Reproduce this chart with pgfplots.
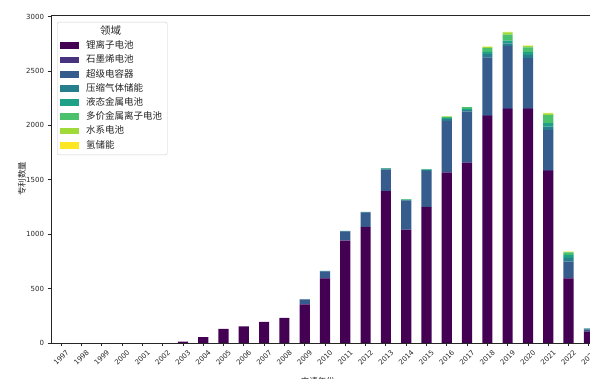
\documentclass[border=0pt]{standalone}
\usepackage{fontspec}
\setmainfont{DejaVu Sans}
\newfontfamily\cjk{Noto Sans CJK SC}
\usepackage{pgfplots}
\pgfplotsset{compat=1.18}
\usepackage{pgfplotstable}

% viridis, 8 steps
\definecolor{v1}{HTML}{440154}
\definecolor{v2}{HTML}{46327E}
\definecolor{v3}{HTML}{365C8D}
\definecolor{v4}{HTML}{277F8E}
\definecolor{v5}{HTML}{1FA187}
\definecolor{v6}{HTML}{4AC16D}
\definecolor{v7}{HTML}{A0DA39}
\definecolor{v8}{HTML}{FDE725}

% patent counts per application year and field
\pgfplotstableread{
year li   gr sc  ca lm mv aq h
1997 0    0  0   0  0  0  0  0
1998 0    0  0   0  0  0  0  0
1999 0    0  0   0  0  0  0  0
2000 0    0  0   0  0  0  0  0
2001 0    0  0   0  0  0  0  0
2002 0    0  0   0  0  0  0  0
2003 12   0  0   0  0  0  0  0
2004 55   0  0   0  0  0  0  0
2005 129  0  0   0  0  0  0  0
2006 153  0  0   0  0  0  0  0
2007 193  0  0   0  0  0  0  0
2008 230  0  0   0  0  0  0  0
2009 356  0  44  2  0  0  0  0
2010 595  1  63  2  1  0  0  0
2011 941  2  83  2  2  0  0  0
2012 1064 3  133 3  2  0  0  0
2013 1395 3  195 8  5  1  0  0
2014 1040 3  265 6  5  3  0  0
2015 1248 4  330 8  5  3  0  0
2016 1567 5  470 15 12 10 3  0
2017 1656 5  465 15 12 14 2  0
2018 2085 10 530 30 20 35 12 3
2019 2150 10 570 25 25 55 20 5
2020 2150 8  460 30 25 45 12 3
2021 1582 8  370 30 30 75 15 6
2022 595  3  150 35 28 22 5  2
2023 104  1  20  7  3  0  0  0
}\patents

% one stacked segment: solid fill, no outline, rectangular legend patch
\pgfplotsset{
  segment/.style={fill=#1, draw=none,
    legend image code/.code={\fill[#1, sharp corners] (0pt,-3.4pt) rectangle (19pt,3.4pt);}},
}

\begin{document}
\begin{tikzpicture}
\begin{axis}[
  at={(0pt,0pt)}, anchor=south west,
  scale only axis, width=548pt, height=328pt,
  xmin=1996.5, xmax=2023.5, ymin=0, ymax=3015,
  ybar stacked, bar width=10.15pt,
  axis line style={black!85, line width=0.8pt},
  tick align=outside, tick pos=left, major tick length=3.5pt,
  tick style={black!85, line width=0.8pt},
  xtick={1997,...,2023}, ytick={0,500,...,3000},
  /pgf/number format/assume math mode=true,
  /pgf/number format/1000 sep={},
  ticklabel style={font=\fontsize{7}{8}\selectfont, text=black!85},
  xticklabel style={yshift=-11pt, rotate=45, anchor=center},
  xlabel={申请年份}, ylabel={专利数量},
  xlabel style={at={(axis description cs:0.487,0)}, anchor=north, yshift=-31pt,
    font=\cjk\fontsize{8.5}{9}\selectfont, text=black!85},
  ylabel style={at={(axis description cs:-0.053,0.5)}, anchor=center,
    font=\cjk\fontsize{8.5}{9}\selectfont, text=black!85},
  legend style={at={(axis description cs:0.011,0.979)}, anchor=north west,
    draw=black!20, rounded corners=2pt, fill=white,
    font=\cjk\fontsize{9.5}{10}\selectfont, text=black!85,
    inner xsep=3pt, inner ysep=2.5pt, row sep=0pt,
    nodes={inner ysep=2.85pt, text height=7pt, text depth=1.5pt, inner xsep=2pt},
    /tikz/every odd column/.append style={column sep=5pt},
    cells={anchor=west}},
]
\addlegendimage{empty legend}
\addlegendentry{\hspace*{14pt}{\fontsize{10.5}{11}\selectfont 领域}}
\addplot[segment=v1] table[x=year, y=li]{\patents}; \addlegendentry{锂离子电池}
\addplot[segment=v2] table[x=year, y=gr]{\patents}; \addlegendentry{石墨烯电池}
\addplot[segment=v3] table[x=year, y=sc]{\patents}; \addlegendentry{超级电容器}
\addplot[segment=v4] table[x=year, y=ca]{\patents}; \addlegendentry{压缩气体储能}
\addplot[segment=v5] table[x=year, y=lm]{\patents}; \addlegendentry{液态金属电池}
\addplot[segment=v6] table[x=year, y=mv]{\patents}; \addlegendentry{多价金属离子电池}
\addplot[segment=v7] table[x=year, y=aq]{\patents}; \addlegendentry{水系电池}
\addplot[segment=v8] table[x=year, y=h]{\patents}; \addlegendentry{氢储能}
\end{axis}
\pgfresetboundingbox
\path (-51pt,-36pt) rectangle (539pt,343pt);
\end{tikzpicture}
\end{document}
